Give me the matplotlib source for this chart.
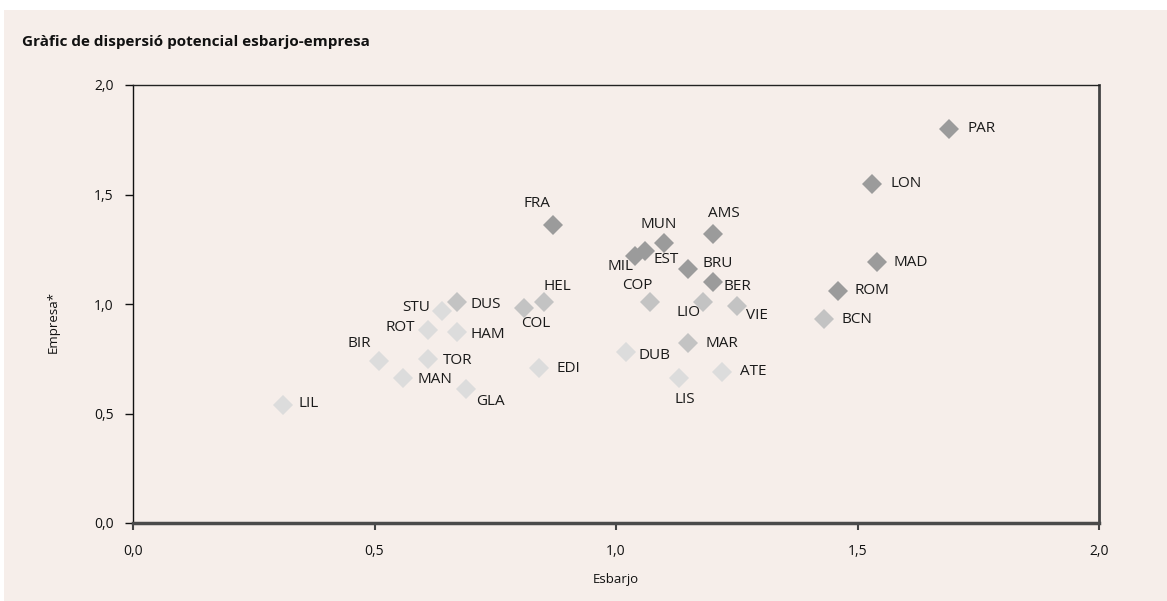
import matplotlib
matplotlib.use("Agg")
import matplotlib.pyplot as plt
from matplotlib.patches import Rectangle

plt.rcParams['font.family'] = ['Open Sans', 'DejaVu Sans']

# ---- data ----
cities = ["PAR", "LON", "MAD", "ROM", "BCN", "FRA", "AMS", "MUN", "MIL", "EST",
          "BRU", "BER", "COP", "LIO", "VIE", "MAR", "DUB", "LIS", "ATE", "DUS",
          "STU", "ROT", "HAM", "BIR", "TOR", "MAN", "GLA", "LIL", "COL", "HEL", "EDI"]
esbarjo = [1.69, 1.53, 1.54, 1.46, 1.43, 0.87, 1.20, 1.10, 1.04, 1.06,
           1.15, 1.20, 1.07, 1.18, 1.25, 1.15, 1.02, 1.13, 1.22, 0.67,
           0.64, 0.61, 0.67, 0.51, 0.61, 0.56, 0.69, 0.31, 0.81, 0.85, 0.84]
empresa = [1.80, 1.55, 1.19, 1.06, 0.93, 1.36, 1.32, 1.28, 1.22, 1.24,
           1.16, 1.10, 1.01, 1.01, 0.99, 0.82, 0.78, 0.66, 0.69, 1.01,
           0.97, 0.88, 0.87, 0.74, 0.75, 0.66, 0.61, 0.54, 0.98, 1.01, 0.71]
grup = ["alt", "alt", "alt", "alt", "mig", "alt", "alt", "alt", "alt", "alt",
        "alt", "alt", "mig", "mig", "mig", "mig", "baix", "baix", "baix", "mig",
        "baix", "baix", "baix", "baix", "baix", "baix", "baix", "baix", "mig", "mig", "baix"]
ticks = [0.0, 0.5, 1.0, 1.5, 2.0]
tick_labels = ["0,0", "0,5", "1,0", "1,5", "2,0"]

# ---- styling ----
colors = {"alt": "#9b9b9b", "mig": "#c3c3c3", "baix": "#dcdcdc"}
bg = "#f6eeea"
# label placement: (dx px, dy px (down positive), ha)
label_pos = {
    "PAR": (18, 0, "left"), "LON": (19, 0, "left"), "MAD": (17, 0, "left"),
    "ROM": (16, 0, "left"), "BCN": (18, 0, "left"), "FRA": (-16, -22, "center"),
    "AMS": (11, -20, "center"), "MUN": (-6, -18, "center"), "MIL": (-2, 11, "right"),
    "EST": (9, 8, "left"), "BRU": (14, -5, "left"), "BER": (11, 4, "left"),
    "COP": (-12, -16, "center"), "LIO": (-2, 11, "right"), "VIE": (9, 9, "left"),
    "MAR": (17, 0, "left"), "DUB": (13, 3, "left"), "LIS": (6, 21, "center"),
    "ATE": (18, 0, "left"), "DUS": (14, 3, "left"), "STU": (-12, -3, "right"),
    "ROT": (-13, -3, "right"), "HAM": (14, 2, "left"), "BIR": (-8, -17, "right"),
    "TOR": (15, 2, "left"), "MAN": (14, 1, "left"), "GLA": (10, 12, "left"),
    "LIL": (16, -1, "left"), "COL": (12, 15, "center"), "HEL": (14, -15, "center"),
    "EDI": (18, 1, "left"),
}

W, H = 1167, 601
fig = plt.figure(figsize=(W / 100, H / 100), dpi=100, facecolor="white")
fig.patches.append(Rectangle((4 / W, 0), 1 - 4 / W, 1 - 10 / H, transform=fig.transFigure,
                             facecolor=bg, edgecolor="none", zorder=-10))

ax = fig.add_axes([133 / W, 1 - 523 / H, (1099 - 133) / W, (523 - 85) / H])
ax.set_facecolor(bg)

for name, x, y, g in zip(cities, esbarjo, empresa, grup):
    ax.plot(x, y, marker="D", ms=10, color=colors[g], mew=0, linestyle="none", zorder=3,
            clip_on=False)
    dx, dy, ha = label_pos[name]
    ax.annotate(name, (x, y), xytext=(dx * 0.72, -dy * 0.72), textcoords="offset points",
                ha=ha, va="center", fontsize=11, color="#1a1a1a", zorder=4)

ax.set_xlim(0, 2)
ax.set_ylim(0, 2)
ax.set_xticks(ticks)
ax.set_xticklabels(tick_labels)
ax.set_yticks(ticks)
ax.set_yticklabels(tick_labels)
ax.tick_params(axis="x", direction="out", length=5, width=1.5, color="#444444", pad=10,
               labelsize=10, labelcolor="#111111")
ax.tick_params(axis="y", direction="out", length=6, width=1, color="#111111", pad=8,
               labelsize=10, labelcolor="#111111")

ax.spines["left"].set_color("#111111")
ax.spines["left"].set_linewidth(1)
ax.spines["top"].set_color("#222222")
ax.spines["top"].set_linewidth(1)
ax.spines["right"].set_color("#444444")
ax.spines["right"].set_linewidth(2)
ax.spines["bottom"].set_color("#4a4a4a")
ax.spines["bottom"].set_linewidth(2.5)

ax.set_xlabel("Esbarjo", fontsize=9.5, color="#111111")
ax.set_ylabel("Empresa*", fontsize=9.5, color="#111111")
ax.xaxis.set_label_coords(0.5, -(579 - 523) / 438)
ax.xaxis.label.set_va("center")
ax.yaxis.set_label_coords((53 - 133) / 966, 0.46)
ax.yaxis.label.set_va("center")

fig.text(22 / W, 1 - 42 / H, "Gràfic de dispersió potencial esbarjo-empresa",
         fontsize=11, fontweight="bold", ha="left", va="center", color="#111111")

fig.savefig("out.png", dpi=100, facecolor="white")
